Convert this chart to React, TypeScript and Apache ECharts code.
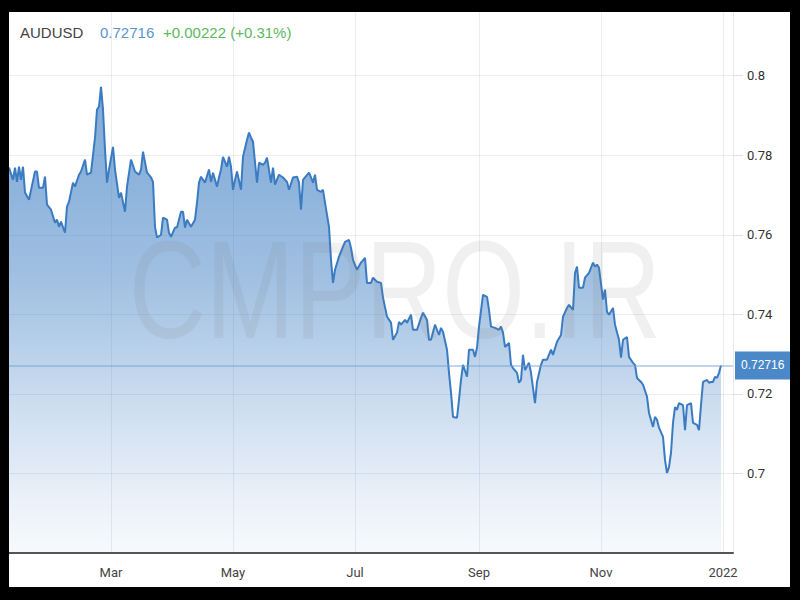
import React, { useEffect, useRef } from "react";
import * as echarts from "echarts";

const dates: string[] = [
  "2021-01-09","2021-01-11","2021-01-12","2021-01-13","2021-01-14","2021-01-15","2021-01-16","2021-01-17","2021-01-19","2021-01-22",
  "2021-01-23","2021-01-24","2021-01-26","2021-01-27","2021-01-28","2021-01-30","2021-02-01","2021-02-02","2021-02-03","2021-02-04",
  "2021-02-06","2021-02-07","2021-02-08","2021-02-10","2021-02-11","2021-02-13","2021-02-14","2021-02-16","2021-02-17","2021-02-19",
  "2021-02-21","2021-02-22","2021-02-23","2021-02-24","2021-02-25","2021-02-26","2021-02-27","2021-02-28","2021-03-02","2021-03-03",
  "2021-03-05","2021-03-06","2021-03-08","2021-03-09","2021-03-11","2021-03-13","2021-03-15","2021-03-16","2021-03-17","2021-03-19",
  "2021-03-21","2021-03-22","2021-03-23","2021-03-24","2021-03-26","2021-03-27","2021-03-29","2021-03-30","2021-03-31","2021-04-02",
  "2021-04-03","2021-04-05","2021-04-06","2021-04-07","2021-04-08","2021-04-10","2021-04-12","2021-04-13","2021-04-14","2021-04-15",
  "2021-04-17","2021-04-19","2021-04-20","2021-04-21","2021-04-23","2021-04-24","2021-04-25","2021-04-26","2021-04-28","2021-04-29",
  "2021-04-30","2021-05-01","2021-05-02","2021-05-03","2021-05-05","2021-05-06","2021-05-08","2021-05-09","2021-05-10","2021-05-11",
  "2021-05-13","2021-05-14","2021-05-16","2021-05-17","2021-05-18","2021-05-20","2021-05-21","2021-05-22","2021-05-24","2021-05-26",
  "2021-05-28","2021-05-29","2021-05-31","2021-06-02","2021-06-03","2021-06-04","2021-06-05","2021-06-06","2021-06-08","2021-06-09",
  "2021-06-10","2021-06-11","2021-06-12","2021-06-14","2021-06-15","2021-06-16","2021-06-18","2021-06-19","2021-06-20","2021-06-21",
  "2021-06-23","2021-06-25","2021-06-26","2021-06-28","2021-06-29","2021-06-30","2021-07-02","2021-07-04","2021-07-06","2021-07-07",
  "2021-07-09","2021-07-10","2021-07-12","2021-07-14","2021-07-15","2021-07-17","2021-07-19","2021-07-20","2021-07-22","2021-07-23",
  "2021-07-24","2021-07-26","2021-07-27","2021-07-29","2021-07-30","2021-08-01","2021-08-03","2021-08-04","2021-08-06","2021-08-07",
  "2021-08-08","2021-08-10","2021-08-12","2021-08-13","2021-08-14","2021-08-16","2021-08-17","2021-08-18","2021-08-19","2021-08-21",
  "2021-08-22","2021-08-23","2021-08-24","2021-08-26","2021-08-27","2021-08-29","2021-08-30","2021-08-31","2021-09-01","2021-09-03",
  "2021-09-05","2021-09-06","2021-09-07","2021-09-09","2021-09-11","2021-09-12","2021-09-13","2021-09-14","2021-09-16","2021-09-17",
  "2021-09-18","2021-09-20","2021-09-21","2021-09-22","2021-09-23","2021-09-24","2021-09-26","2021-09-27","2021-09-29","2021-09-30",
  "2021-10-02","2021-10-03","2021-10-05","2021-10-07","2021-10-08","2021-10-10","2021-10-12","2021-10-13","2021-10-15","2021-10-16",
  "2021-10-18","2021-10-19","2021-10-20","2021-10-21","2021-10-23","2021-10-24","2021-10-26","2021-10-28","2021-10-29","2021-10-30",
  "2021-10-31","2021-11-02","2021-11-03","2021-11-04","2021-11-05","2021-11-07","2021-11-08","2021-11-10","2021-11-11","2021-11-12",
  "2021-11-14","2021-11-15","2021-11-17","2021-11-18","2021-11-19","2021-11-21","2021-11-22","2021-11-24","2021-11-25","2021-11-27",
  "2021-11-28","2021-11-29","2021-11-30","2021-12-02","2021-12-03","2021-12-04","2021-12-05","2021-12-06","2021-12-07","2021-12-08",
  "2021-12-09","2021-12-10","2021-12-12","2021-12-13","2021-12-14","2021-12-16","2021-12-17","2021-12-19","2021-12-20","2021-12-21",
  "2021-12-22","2021-12-24","2021-12-25","2021-12-26","2021-12-27","2021-12-28","2021-12-29","2021-12-30","2021-12-31"
];

const rates: number[] = [
  0.7769,0.7738,0.7769,0.7733,0.7771,0.7738,0.7771,0.7706,0.7688,0.7759,
  0.7759,0.7718,0.7718,0.7746,0.7676,0.7663,0.7630,0.7638,0.7620,0.7633,
  0.7605,0.7671,0.7683,0.7731,0.7721,0.7751,0.7759,0.7789,0.7751,0.7756,
  0.7844,0.7915,0.7922,0.7972,0.7915,0.7814,0.7731,0.7764,0.7821,0.7764,
  0.7693,0.7706,0.7658,0.7721,0.7789,0.7759,0.7751,0.7764,0.7809,0.7756,
  0.7744,0.7733,0.7620,0.7593,0.7600,0.7643,0.7638,0.7605,0.7595,0.7618,
  0.7618,0.7658,0.7658,0.7618,0.7638,0.7620,0.7638,0.7681,0.7731,0.7746,
  0.7731,0.7764,0.7733,0.7756,0.7721,0.7744,0.7764,0.7796,0.7771,0.7796,
  0.7771,0.7713,0.7738,0.7759,0.7713,0.7796,0.7839,0.7857,0.7844,0.7834,
  0.7731,0.7781,0.7776,0.7781,0.7794,0.7731,0.7769,0.7726,0.7751,0.7744,
  0.7733,0.7713,0.7744,0.7746,0.7731,0.7663,0.7738,0.7744,0.7756,0.7744,
  0.7731,0.7751,0.7713,0.7708,0.7713,0.7681,0.7620,0.7537,0.7479,0.7512,
  0.7545,0.7570,0.7582,0.7587,0.7567,0.7537,0.7512,0.7530,0.7542,0.7479,
  0.7479,0.7492,0.7482,0.7479,0.7442,0.7394,0.7379,0.7336,0.7354,0.7381,
  0.7374,0.7386,0.7379,0.7399,0.7361,0.7361,0.7391,0.7404,0.7386,0.7336,
  0.7336,0.7374,0.7348,0.7366,0.7356,0.7311,0.7253,0.7203,0.7142,0.7140,
  0.7185,0.7235,0.7273,0.7243,0.7311,0.7311,0.7293,0.7316,0.7369,0.7449,
  0.7444,0.7411,0.7369,0.7366,0.7361,0.7369,0.7354,0.7318,0.7328,0.7273,
  0.7265,0.7253,0.7228,0.7235,0.7298,0.7260,0.7278,0.7253,0.7177,0.7230,
  0.7273,0.7286,0.7286,0.7311,0.7298,0.7331,0.7348,0.7394,0.7416,0.7424,
  0.7411,0.7504,0.7520,0.7467,0.7467,0.7492,0.7504,0.7530,0.7520,0.7525,
  0.7517,0.7437,0.7462,0.7406,0.7399,0.7416,0.7374,0.7336,0.7291,0.7336,
  0.7343,0.7293,0.7278,0.7273,0.7240,0.7230,0.7223,0.7193,0.7152,0.7117,
  0.7142,0.7135,0.7115,0.7092,0.7034,0.7001,0.7016,0.7052,0.7127,0.7167,
  0.7160,0.7177,0.7172,0.7109,0.7172,0.7177,0.7127,0.7122,0.7109,0.7172,
  0.7230,0.7235,0.7228,0.7230,0.7230,0.7243,0.7240,0.7253,0.72716
];

const monthTicks: string[] = ["2021-03-01", "2021-05-01", "2021-07-01", "2021-09-01", "2021-11-01", "2022-01-01"];
const monthNames: string[] = ["Jan", "Feb", "Mar", "Apr", "May", "Jun", "Jul", "Aug", "Sep", "Oct", "Nov", "Dec"];
const xRange: string[] = ["2021-01-09", "2022-01-06"];
const yTicks = { min: 0.68, max: 0.816, interval: 0.02 };

const symbol = "AUDUSD";
const lastPrice = "0.72716";
const lastValue = 0.72716;
const change = "+0.00222 (+0.31%)";

const narrow = 'Roboto, "Liberation Sans", sans-serif';
const sans = '"Liberation Sans", Arial, sans-serif';
const gridColor = "rgba(110,130,160,0.14)";

export default function App() {
  const ref = useRef<HTMLDivElement>(null);

  useEffect(() => {
    if (!ref.current) return;
    const chart = echarts.init(ref.current, null, { renderer: "svg" });
    const data = dates.map((d, i) => [Date.parse(d), rates[i]]);
    const tickVals = monthTicks.map((d) => Date.parse(d));

    chart.setOption({
      animation: false,
      backgroundColor: "#ffffff",
      grid: { left: 0, right: 57, top: 0, bottom: 34, containLabel: false },
      xAxis: {
        type: "value",
        min: Date.parse(xRange[0]),
        max: Date.parse(xRange[1]),
        z: 3,
        axisLine: { show: true, onZero: false, lineStyle: { color: "#555555", width: 2 } },
        axisTick: { show: false, customValues: tickVals },
        axisLabel: {
          customValues: tickVals,
          margin: 13,
          color: "#444444",
          fontSize: 13,
          fontFamily: narrow,
          formatter: (v: number) => {
            const dt = new Date(v);
            const m = dt.getUTCMonth();
            return m === 0 ? String(dt.getUTCFullYear()) : monthNames[m];
          },
        },
        splitLine: { show: true, lineStyle: { color: gridColor, width: 1 } },
      },
      yAxis: {
        type: "value",
        position: "right",
        min: yTicks.min,
        max: yTicks.max,
        interval: yTicks.interval,
        z: 3,
        axisLine: { show: true, lineStyle: { color: "#e8e8e8", width: 1 } },
        axisTick: { show: true, length: 10, lineStyle: { color: "#e0e0e0" } },
        axisLabel: {
          margin: 14,
          color: "#333333",
          fontSize: 13,
          fontFamily: narrow,
          showMinLabel: false,
          showMaxLabel: false,
          formatter: (v: number) => String(parseFloat(v.toFixed(2))),
        },
        splitLine: { show: true, showMaxLine: false, lineStyle: { color: gridColor, width: 1 } },
      },
      series: [
        {
          type: "line",
          data,
          showSymbol: false,
          symbol: "none",
          lineStyle: { color: "#3a7bc2", width: 2 },
          areaStyle: {
            color: new echarts.graphic.LinearGradient(0, 0, 0, 1, [
              { offset: 0, color: "rgba(60,125,195,0.92)" },
              { offset: 0.22, color: "rgba(60,125,195,0.82)" },
              { offset: 0.41, color: "rgba(60,125,195,0.69)" },
              { offset: 0.54, color: "rgba(60,125,195,0.54)" },
              { offset: 0.67, color: "rgba(60,125,195,0.38)" },
              { offset: 0.78, color: "rgba(60,125,195,0.26)" },
              { offset: 0.89, color: "rgba(60,125,195,0.15)" },
              { offset: 1, color: "rgba(60,125,195,0.06)" },
            ]),
          },
          markLine: {
            silent: true,
            symbol: "none",
            animation: false,
            precision: 5,
            lineStyle: { color: "rgba(110,160,215,0.6)", width: 1.5, type: "solid" },
            label: {
              show: true,
              position: "end",
              distance: 2,
              formatter: lastPrice,
              color: "#ffffff",
              backgroundColor: "#4a88c8",
              padding: [8, 6],
              fontSize: 12,
              fontFamily: sans,
            },
            data: [{ yAxis: lastValue }],
          },
        },
      ],
      graphic: [
        {
          type: "text",
          left: 11,
          top: 13,
          style: { text: symbol, fill: "#444444", fontSize: 15, fontFamily: sans },
          z: 20,
        },
        {
          type: "text",
          left: 91,
          top: 13,
          style: { text: lastPrice, fill: "#5b95cc", fontSize: 15, fontFamily: sans },
          z: 20,
        },
        {
          type: "text",
          left: 154,
          top: 13,
          style: { text: change, fill: "#5cb85c", fontSize: 15, fontFamily: sans },
          z: 20,
        },
        {
          type: "text",
          x: 386,
          y: 277,
          scaleX: 0.76,
          style: {
            text: "CMPRO.IR",
            fill: "rgba(120,120,120,0.11)",
            fontSize: 140,
            fontFamily: sans,
            align: "center",
            verticalAlign: "middle",
          },
          z: 10,
          silent: true,
        },
      ],
    });

    return () => chart.dispose();
  }, []);

  return (
    <div style={{ position: "absolute", left: 0, top: 0, width: 800, height: 600, background: "#000000" }}>
      <div
        ref={ref}
        style={{ position: "absolute", left: 9, top: 12, width: 781, height: 575, background: "#ffffff" }}
      />
    </div>
  );
}
